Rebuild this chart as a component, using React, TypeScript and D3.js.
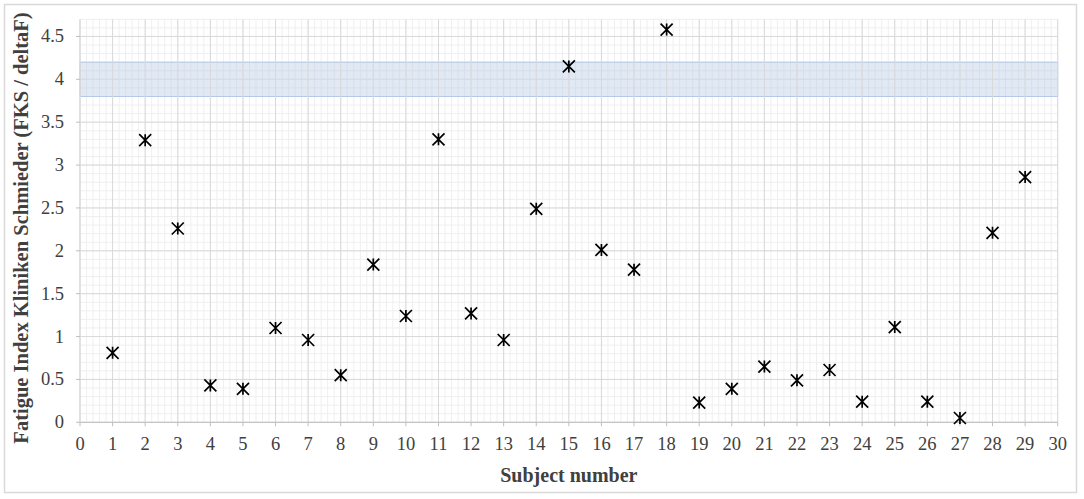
import { useEffect } from 'react';
import * as d3 from 'd3';

// Subject numbers and fatigue index values
const subjects = [
  1, 2, 3, 4, 5, 6, 7, 8, 9, 10, 11, 12, 13, 14, 15,
  16, 17, 18, 19, 20, 21, 22, 23, 24, 25, 26, 27, 28, 29,
];
const fatigueIndex = [
  0.81, 3.29, 2.26, 0.43, 0.39, 1.1, 0.96, 0.55, 1.84, 1.24, 3.3, 1.27, 0.96, 2.49, 4.15,
  2.01, 1.78, 4.58, 0.23, 0.39, 0.65, 0.49, 0.61, 0.24, 1.11, 0.24, 0.05, 2.21, 2.86,
];
const xTicks = d3.range(0, 31, 1);
const yTicks = [0, 0.5, 1, 1.5, 2, 2.5, 3, 3.5, 4, 4.5];
const band = [3.8, 4.2];

const W = 1084;
const H = 499;
const margin = { left: 80, right: 26.3, top: 19.3, bottom: 76.7 };

export default function App() {
  useEffect(() => {
    document.body.style.margin = '0';
  }, []);

  const x = d3.scaleLinear().domain([0, 30]).range([margin.left, W - margin.right]);
  const y = d3.scaleLinear().domain([0, 4.7]).range([H - margin.bottom, margin.top]);
  const [x0, x1] = x.range();
  const [y0, y1] = y.range();

  const minorX = d3.range(0, 30.001, 0.2);
  const minorY = d3.range(0, 4.701, 0.1);

  const font = 'Liberation Serif, Times New Roman, serif';
  const star = (cx: number, cy: number) => {
    const s = 6;
    return `M${cx - s},${cy - s}L${cx + s},${cy + s}M${cx - s},${cy + s}L${cx + s},${cy - s}M${cx},${cy - s}L${cx},${cy + s}`;
  };

  return (
    <svg width={W} height={H} style={{ display: 'block', background: '#fff' }}>
      <rect x={4.5} y={4.5} width={1072} height={488} fill="#fff" stroke="#d9d9d9" strokeWidth={1.5} />

      {/* minor grid */}
      {minorX.map((v) => (
        <line key={'mx' + v} x1={x(v)} x2={x(v)} y1={y0} y2={y1} stroke="#efefef" strokeWidth={1} />
      ))}
      {minorY.map((v) => (
        <line key={'my' + v} x1={x0} x2={x1} y1={y(v)} y2={y(v)} stroke="#efefef" strokeWidth={1} />
      ))}

      {/* band */}
      <rect
        x={x0}
        width={x1 - x0}
        y={y(band[1])}
        height={y(band[0]) - y(band[1])}
        fill="#b4c7e7"
        fillOpacity={0.4}
        stroke="#b4c7e7"
        strokeWidth={1}
      />

      {/* major grid */}
      {xTicks.map((v) => (
        <line key={'gx' + v} x1={x(v)} x2={x(v)} y1={y0} y2={y1} stroke="#d9d9d9" strokeWidth={1} />
      ))}
      {yTicks.map((v) => (
        <line key={'gy' + v} x1={x0} x2={x1} y1={y(v)} y2={y(v)} stroke="#d9d9d9" strokeWidth={1} />
      ))}

      {/* axes */}
      <line x1={x0} x2={x1} y1={y0} y2={y0} stroke="#bfbfbf" strokeWidth={1} />
      <line x1={x0} x2={x0} y1={y0} y2={y1} stroke="#d9d9d9" strokeWidth={1} />
      {xTicks.map((v) => (
        <g key={'tx' + v}>
          <line x1={x(v)} x2={x(v)} y1={y0} y2={y0 + 4} stroke="#bfbfbf" />
          <text x={x(v)} y={y0 + 28} textAnchor="middle" fontFamily={font} fontSize={18.5} fill="#404040">
            {v}
          </text>
        </g>
      ))}
      {yTicks.map((v) => (
        <g key={'ty' + v}>
          <line x1={x0 - 4} x2={x0} y1={y(v)} y2={y(v)} stroke="#bfbfbf" />
          <text x={x0 - 16} y={y(v) + 6} textAnchor="end" fontFamily={font} fontSize={18.5} fill="#404040">
            {v}
          </text>
        </g>
      ))}

      {/* points */}
      {subjects.map((s, i) => (
        <path key={'p' + s} d={star(x(s), y(fatigueIndex[i]))} stroke="#000" strokeWidth={1.7} fill="none" />
      ))}

      {/* axis titles */}
      <text x={(x0 + x1) / 2} y={482} textAnchor="middle" fontFamily={font} fontSize={20} fontWeight="bold" fill="#404040">
        Subject number
      </text>
      <text
        transform="translate(28,228) rotate(-90)"
        textAnchor="middle"
        fontFamily={font}
        fontSize={20.5}
        fontWeight="bold"
        fill="#404040"
      >
        Fatigue Index Kliniken Schmieder (FKS / deltaF)
      </text>
    </svg>
  );
}
